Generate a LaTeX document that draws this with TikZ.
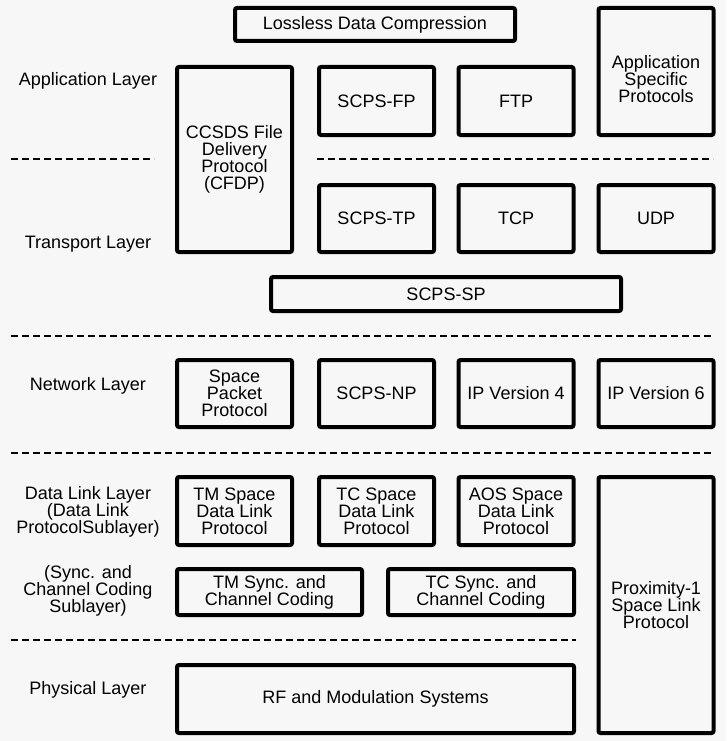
\documentclass[tikz,border=0pt]{standalone}
\usepackage{fontspec}
\setmainfont{Liberation Sans}
\usepackage{xcolor}
\usepackage{tikz}
\usetikzlibrary{positioning}
\definecolor{paper}{RGB}{247,247,247}
\tikzset{
  proto/.style={draw, line width=4pt, rounded corners=2pt, align=center,
    inner sep=0pt, minimum width=115, font=\fontsize{18}{17}\selectfont},
  lyr/.style={align=center, inner sep=0pt, font=\fontsize{18}{17}\selectfont},
  sep/.style={line width=2.5pt, dash pattern=on 7pt off 4pt}
}
\begin{document}
\begin{tikzpicture}[x=1pt,y=-1pt]
\fill[paper] (0,0) rectangle (726,741);
\useasboundingbox (0,0) rectangle (726,741);
% layer names
\node[lyr] (app) at (88,81) {Application Layer};
\node[lyr] (trn) at (88,244) {Transport Layer};
\node[lyr] (net) at (88,386) {Network Layer};
\node[lyr] (dll) at (88,512) {Data Link Layer\\(Data Link\\ProtocolSublayer)};
\node[lyr] (scc) at (88,591) {(Sync. and\\Channel Coding\\Sublayer)};
\node[lyr] (phy) at (88,690) {Physical Layer};
% application and transport
\node[proto, minimum width=280, minimum height=33] (ldc) at (375,24.5) {Lossless Data Compression};
\node[proto, minimum height=127, text height=62pt] (asp) at (656,71.5) {Application\\Specific\\Protocols};
\node[proto, minimum height=185] (cfdp) at (234.5,159.5) {CCSDS File\\Delivery\\Protocol\\(CFDP)};
\node[proto, minimum height=68] (fp) at (376.5,101) {SCPS-FP};
\node[proto, minimum height=68] (ftp) at (516,101) {FTP};
\node[proto, minimum height=67] (tp) at (376.5,218.5) {SCPS-TP};
\node[proto, minimum height=67] (tcp) at (516,218.5) {TCP};
\node[proto, minimum height=67] (udp) at (656,218.5) {UDP};
\node[proto, minimum width=350, minimum height=34] (sp) at (446,294) {SCPS-SP};
% network
\node[proto, minimum height=67] (spp) at (234.5,393.5) {Space\\Packet\\Protocol};
\node[proto, minimum height=67] (np) at (376.5,393.5) {SCPS-NP};
\node[proto, minimum height=67] (ip4) at (516,393.5) {IP Version 4};
\node[proto, minimum height=67] (ip6) at (656,393.5) {IP Version 6};
% data link and physical
\node[proto, minimum height=68] (tm) at (234.5,511) {TM Space\\Data Link\\Protocol};
\node[proto, minimum height=68] (tc) at (376.5,511) {TC Space\\Data Link\\Protocol};
\node[proto, minimum height=68] (aos) at (516,511) {AOS Space\\Data Link\\Protocol};
\node[proto, minimum height=256] (prox) at (656,605) {Proximity-1\\Space Link\\Protocol};
\node[proto, minimum width=185, minimum height=46] (tmsc) at (269.5,592) {TM Sync. and\\Channel Coding};
\node[proto, minimum width=186, minimum height=46] (tcsc) at (481,592) {TC Sync. and\\Channel Coding};
\node[proto, minimum width=397, minimum height=68] (rf) at (375.5,699) {RF and Modulation Systems};
% layer boundaries
\draw[sep] (11,159) -- (154,159);
\draw[sep] (317,159) -- (713,159);
\draw[sep] (11,336) -- (713,336);
\draw[sep] (11,453) -- (713,453);
\draw[sep] (11,640) -- (576,640);
\end{tikzpicture}
\end{document}
